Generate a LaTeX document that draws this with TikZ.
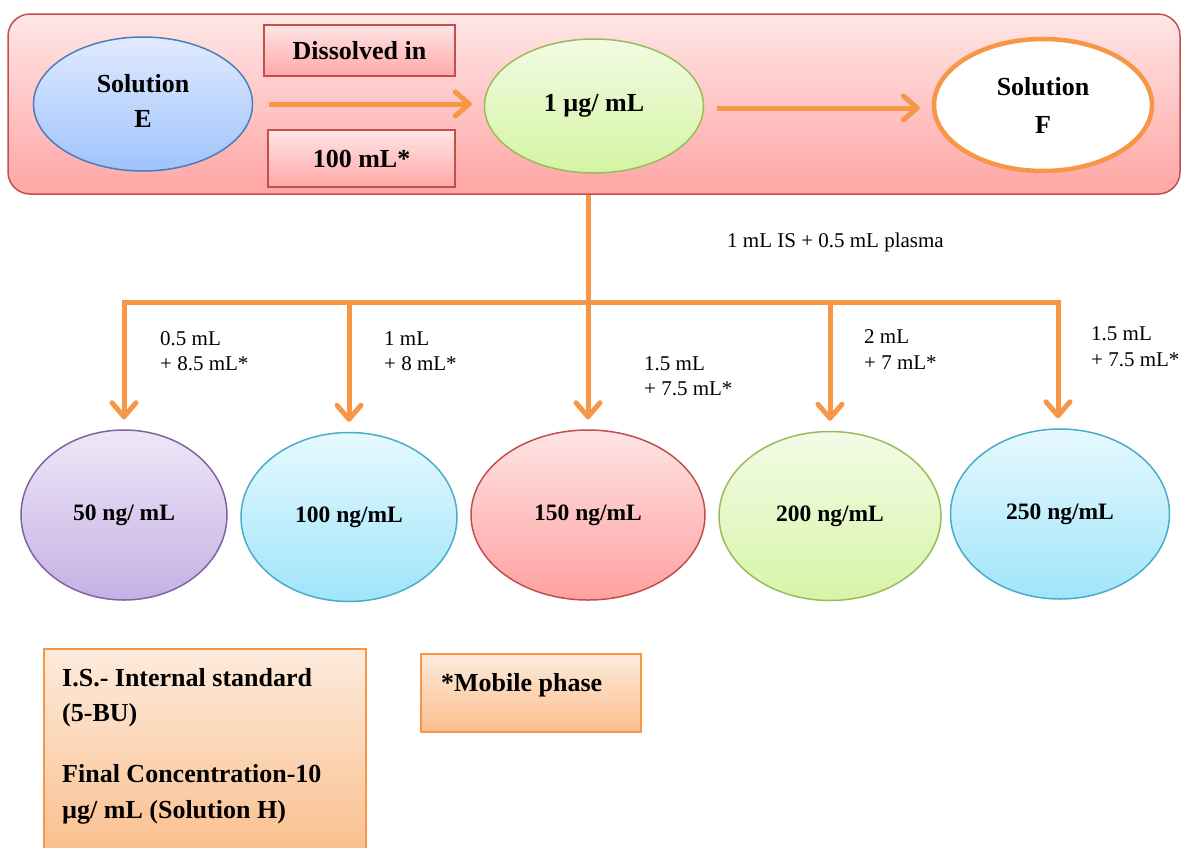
\documentclass[tikz,border=0pt]{standalone}
\usepackage{fontspec}
\setmainfont{Liberation Serif}
\usetikzlibrary{shapes.geometric,arrows.meta}

\definecolor{flowor}{RGB}{247,150,70}
\definecolor{redln}{RGB}{192,80,77}
\definecolor{blueln}{RGB}{74,126,187}
\definecolor{greenln}{RGB}{155,187,89}
\definecolor{purpleln}{RGB}{128,100,162}
\definecolor{aqualn}{RGB}{75,172,198}

\begin{document}
\begin{tikzpicture}[x=1pt,y=-1pt,
  big/.style={font=\fontsize{26}{35}\selectfont\bfseries},
  mid/.style={font=\fontsize{23.5}{30}\selectfont\bfseries},
  small/.style={font=\fontsize{21}{25.5}\selectfont, align=left, anchor=west, inner sep=0pt},
  blob/.style={ellipse, inner sep=0pt, line width=1.5pt, align=center},
  pinkbox/.style={rectangle, draw=redln, line width=2pt, top color={rgb,255:red,255;green,228;blue,228}, bottom color={rgb,255:red,255;green,168;blue,168}},
  notebox/.style={rectangle, draw=flowor, line width=2pt, top color={rgb,255:red,253;green,235;blue,220}, bottom color={rgb,255:red,250;green,190;blue,140}},
  flow/.style={draw=flowor, line width=5pt, line join=miter, -{Straight Barb[round,length=14pt,width=24pt]}},
  bar/.style={draw=flowor, line width=5pt},
]
\useasboundingbox (0,0) rectangle (1181,847);
\clip (0,0) rectangle (1181,847);

% stock solution panel
\node (panel) [rectangle, rounded corners=22pt, draw=redln, line width=1.5pt,
  top color={rgb,255:red,255;green,230;blue,230}, bottom color={rgb,255:red,255;green,165;blue,165},
  minimum width=1172pt, minimum height=180pt] at (594,104) {};

\node (solE) [blob, draw=blueln, minimum width=219pt, minimum height=134pt,
  top color={rgb,255:red,224;green,234;blue,255}, bottom color={rgb,255:red,160;green,195;blue,250}]
  at (143,104) {};
\node (solEtxt) [big, align=center, inner sep=0pt] at (143,101) {Solution\\E};

\node (dissolved) [pinkbox, big, minimum width=191pt, minimum height=51pt] at (359.5,50.5) {Dissolved in};
\node (volume) [pinkbox, big, minimum width=187pt, minimum height=57pt] at (361.5,158.5) {100 mL*};

\node (stock) [blob, big, draw=greenln, minimum width=219pt, minimum height=134pt,
  top color={rgb,255:red,242;green,251;blue,228}, bottom color={rgb,255:red,212;green,244;blue,162}]
  at (594,106) {1 µg/ mL};

\node (solF) [blob, big, draw=flowor, line width=4.5pt, fill=white, minimum width=218pt, minimum height=132pt,
  align=center, font=\fontsize{26}{38}\selectfont\bfseries]
  at (1043,105) {Solution\\F};

\draw[flow, shorten <=16pt, shorten >=12pt] (solE.east) -- (solE.east -| stock.west);
\draw[flow, shorten <=13pt, shorten >=12pt] (stock.east |- 0,108) -- (solF.west |- 0,108);

% calibration standards
\node (c50) [blob, mid, draw=purpleln, minimum width=206pt, minimum height=170pt,
  top color={rgb,255:red,238;green,231;blue,247}, bottom color={rgb,255:red,198;green,176;blue,228}]
  at (124,515) {50 ng/ mL};
\node (c100) [blob, mid, draw=aqualn, minimum width=216pt, minimum height=169pt,
  top color={rgb,255:red,230;green,249;blue,255}, bottom color={rgb,255:red,160;green,228;blue,250}]
  at (349,517) {100 ng/mL};
\node (c150) [blob, mid, draw=redln, minimum width=234pt, minimum height=170pt,
  top color={rgb,255:red,255;green,228;blue,228}, bottom color={rgb,255:red,255;green,160;blue,160}]
  at (588,515) {150 ng/mL};
\node (c200) [blob, mid, draw=greenln, minimum width=222pt, minimum height=169pt,
  top color={rgb,255:red,243;green,251;blue,232}, bottom color={rgb,255:red,214;green,245;blue,165}]
  at (830,516) {200 ng/mL};
\node (c250) [blob, mid, draw=aqualn, minimum width=219pt, minimum height=170pt,
  top color={rgb,255:red,230;green,249;blue,255}, bottom color={rgb,255:red,160;green,228;blue,250}]
  at (1060,514) {250 ng/mL};

% distribution bar
\coordinate (barL) at (124,302);
\coordinate (barR) at (1058,302);
\draw[bar] (barL) -- (barR);
\draw[flow, shorten >=10pt] (panel.south -| c150.north) -- (c150.north);
\draw[flow, shorten >=10pt] (barR) -- (barL) -- (c50.north);
\draw[flow, shorten >=10pt] (barL) -- (barR) -- (barR |- c250.north);
\draw[flow, shorten >=10pt] (barL -| c100.north) -- (c100.north);
\draw[flow, shorten >=10pt] (barL -| c200.north) -- (c200.north);

\node (isadd) [small] at (727,242) {1 mL IS + 0.5 mL plasma};
\node (l50)  [small] at (160,351)   {0.5 mL\\+ 8.5 mL*};
\node (l100) [small] at (384,351)   {1 mL\\+ 8 mL*};
\node (l150) [small] at (644,376)   {1.5 mL\\+ 7.5 mL*};
\node (l200) [small] at (864,349.5) {2 mL\\+ 7 mL*};
\node (l250) [small] at (1091,346.5){1.5 mL\\+ 7.5 mL*};

% notes
\node (isbox) [notebox, minimum width=322pt, minimum height=210pt, anchor=north west] at (43,648) {};
\node (is1) [big, anchor=base west, inner sep=0pt] at (62,686) {I.S.- Internal standard};
\node (is2) [big, anchor=base west, inner sep=0pt] at (62,721.5) {(5-BU)};
\node (is3) [big, anchor=base west, inner sep=0pt] at (62,782) {Final Concentration-10};
\node (is4) [big, anchor=base west, inner sep=0pt] at (62,818) {µg/ mL (Solution H)};

\node (mpbox) [notebox, minimum width=220pt, minimum height=78pt, anchor=north west] at (420,653) {};
\node (mp) [big, anchor=base west, inner sep=0pt] at (441,691) {*Mobile phase};
\end{tikzpicture}
\end{document}
